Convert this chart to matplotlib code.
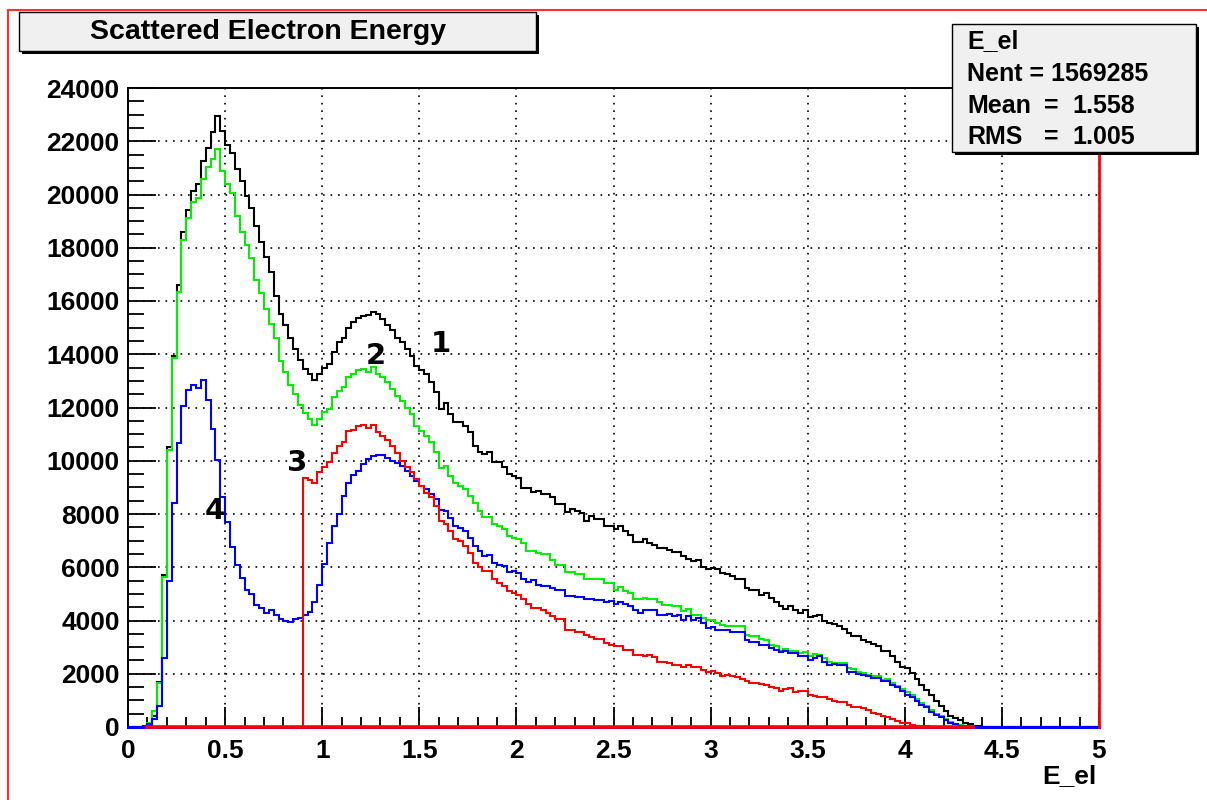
import numpy as np
import matplotlib
matplotlib.use("Agg")
import matplotlib.pyplot as plt
from matplotlib.patches import Rectangle
from matplotlib.lines import Line2D

# histogram: 200 bins of 0.025 over 0..5
n_bins = 200
x_min, x_max = 0.0, 5.0

# series 1 (black), first non-empty bin = 4
black_start = 4
black = [50, 400, 1700, 5700, 10500, 13950, 16600, 18600, 19400, 20150,
         20400, 21250, 21750, 22350, 22950, 22400, 21850, 21550, 20950, 20500,
         19950, 19500, 18800, 18200, 17650, 17100, 16200, 15500, 15100, 14600,
         14200, 13800, 13450, 13250, 13050, 13250, 13500, 13650, 14100, 14450,
         14620, 15000, 15200, 15380, 15420, 15470, 15570, 15500, 15330, 15100,
         14920, 14600, 14460, 14200, 13950, 13550, 13400, 13260, 12950, 12570,
         11940, 12170, 11760, 11470, 11440, 11310, 11070, 10560, 10310, 10250,
         10310, 9960, 9940, 9750, 9500, 9430, 9350, 8990, 8990, 8830,
         8870, 8740, 8740, 8620, 8360, 8360, 8070, 8200, 8110, 8050,
         7740, 7920, 7800, 7800, 7550, 7550, 7420, 7550, 7360, 7230,
         6940, 6940, 7070, 6900, 6830, 6730, 6710, 6630, 6570, 6570,
         6420, 6320, 6230, 6290, 6020, 5940, 5960, 5940, 5790, 5730,
         5660, 5560, 5560, 5230, 5140, 5140, 4970, 5040, 4850, 4680,
         4530, 4430, 4530, 4410, 4280, 4410, 4130, 4160, 4220, 3970,
         3910, 3880, 3780, 3680, 3530, 3430, 3400, 3280, 3180, 3120,
         3030, 2840, 2840, 2650, 2460, 2270, 2200, 2020, 1800, 1580,
         1390, 1210, 990, 770, 610, 410, 330, 260, 160, 110,
         40, 20]

# series 2 (green), first non-empty bin = 3
green_start = 3
green = [30, 150, 600, 1650, 5650, 10400, 13850, 16350, 18300, 19100,
         19700, 19880, 20600, 21050, 21350, 21700, 20900, 20400, 20050, 19200,
         18600, 18100, 17600, 16800, 16300, 15700, 15150, 14600, 13750, 13350,
         12850, 12500, 12100, 11800, 11550, 11350, 11550, 11840, 11940, 12380,
         12630, 12760, 13140, 13260, 13390, 13450, 13350, 13520, 13260, 13140,
         12950, 12700, 12450, 12260, 12000, 11760, 11310, 11130, 10940, 10690,
         10310, 9710, 9810, 9430, 9160, 9050, 8930, 8680, 8400, 8110,
         7900, 7900, 7610, 7540, 7420, 7170, 7110, 7050, 6920, 6600,
         6600, 6540, 6480, 6480, 6290, 6070, 6070, 5810, 5810, 5760,
         5760, 5540, 5540, 5540, 5540, 5390, 5390, 5160, 5260, 5100,
         5040, 4790, 4790, 4850, 4790, 4790, 4680, 4600, 4600, 4530,
         4530, 4340, 4430, 4220, 4220, 4100, 4030, 4030, 3910, 3840,
         3780, 3780, 3780, 3780, 3470, 3400, 3400, 3300, 3280, 3090,
         3030, 2870, 2930, 2840, 2870, 2780, 2800, 2680, 2750, 2710,
         2590, 2460, 2420, 2420, 2400, 2210, 2170, 2080, 2020, 1960,
         1900, 1900, 1770, 1800, 1650, 1550, 1420, 1300, 1200, 1060,
         900, 800, 640, 500, 420, 300, 200, 130, 80, 50,
         30, 10]

# series 3 (red), starts with the jump at E = 0.9
red_start = 36
red = [9340, 9280, 9150, 9570, 9750, 9950, 10300, 10560, 10690, 11100,
       11160, 11310, 11330, 11220, 11330, 11080, 10940, 10770, 10570, 10300,
       10000, 9770, 9590, 9310, 9050, 8800, 8620, 8300, 7740, 7610,
       7360, 7050, 6980, 6790, 6540, 6160, 6020, 5850, 5850, 5560,
       5410, 5290, 5100, 5040, 4950, 4790, 4630, 4470, 4470, 4380,
       4280, 4160, 4060, 4060, 3650, 3650, 3550, 3550, 3470, 3380,
       3300, 3300, 3150, 3090, 3030, 3030, 2900, 2900, 2710, 2710,
       2650, 2710, 2630, 2460, 2460, 2400, 2340, 2340, 2270, 2340,
       2250, 2250, 2150, 2080, 2120, 2020, 1900, 1960, 1920, 1870,
       1800, 1710, 1670, 1670, 1620, 1580, 1520, 1460, 1370, 1420,
       1460, 1330, 1370, 1370, 1210, 1170, 1140, 1120, 1040, 990,
       950, 950, 830, 760, 740, 700, 640, 540, 490, 410,
       390, 290, 240, 160, 140, 80, 50, 30, 20, 10]
# bin range over which the red outline is drawn (it also runs along zero there)
red_lo, red_hi = 4, 174

# series 4 (blue), first non-empty bin = 3
blue_start = 3
blue = [20, 100, 300, 800, 2600, 5500, 8400, 10650, 12050, 12650,
        12850, 12730, 13050, 12300, 11200, 10030, 8620, 7700, 6760, 6080,
        5600, 5140, 5000, 4600, 4460, 4270, 4400, 4220, 4050, 4000,
        3960, 4070, 4110, 4220, 4310, 4690, 5330, 6140, 6920, 7550,
        7990, 8670, 9180, 9480, 9620, 9890, 10060, 10180, 10200, 10200,
        10100, 10000, 9900, 9800, 9620, 9430, 9240, 9050, 8930, 8740,
        8550, 8150, 8110, 7860, 7550, 7490, 7360, 7110, 6790, 6600,
        6410, 6470, 6160, 6100, 6060, 5810, 5850, 5800, 5540, 5440,
        5510, 5350, 5310, 5310, 5220, 5160, 5160, 4910, 4910, 4890,
        4890, 4790, 4790, 4760, 4760, 4680, 4720, 4630, 4680, 4630,
        4530, 4410, 4280, 4410, 4410, 4410, 4220, 4220, 4260, 4160,
        4220, 4030, 4160, 4030, 4100, 3900, 3720, 3760, 3650, 3630,
        3630, 3550, 3550, 3550, 3280, 3180, 3180, 3090, 3090, 2960,
        2900, 2800, 2840, 2780, 2780, 2650, 2650, 2520, 2590, 2650,
        2460, 2340, 2370, 2340, 2340, 2080, 2050, 2000, 1960, 1900,
        1830, 1830, 1710, 1710, 1580, 1520, 1360, 1190, 1120, 990,
        830, 740, 580, 450, 390, 260, 160, 110, 50, 20]

x_ticks = [0, 0.5, 1, 1.5, 2, 2.5, 3, 3.5, 4, 4.5, 5]
x_tick_labels = ["0", "0.5", "1", "1.5", "2", "2.5", "3", "3.5", "4", "4.5", "5"]
y_ticks = list(range(0, 24001, 2000))
y_tick_labels = [str(v) for v in y_ticks]

curve_labels = ["1", "2", "3", "4"]
curve_label_x = [1.61, 1.275, 0.872, 0.445]
curve_label_y = [14390, 13920, 9910, 8100]

stats_name = "E_el"
stats_nent = 1569285
stats_mean = 1.558
stats_rms = 1.005


def full_hist(start, vals):
    h = np.zeros(n_bins)
    h[start:start + len(vals)] = vals
    return h


W, H = 1207, 800
fig = plt.figure(figsize=(W / 100, H / 100), dpi=100)
fig.patch.set_facecolor("white")


def fx(px):
    return px / W


def fy(py):
    return 1 - py / H


ax = fig.add_axes([fx(128), fy(727), fx(1099) - fx(128), fy(88) - fy(727)])
edges = np.linspace(x_min, x_max, n_bins + 1)

ax.stairs(full_hist(black_start, black), edges, color="black", lw=1.5, baseline=0, zorder=3)
ax.stairs(full_hist(green_start, green), edges, color="#00ee00", lw=1.5, baseline=0, zorder=3)
ax.stairs(full_hist(blue_start, blue), edges, color="#0000ff", lw=1.5, baseline=0, zorder=3)
ax.plot([edges[0], edges[-1]], [0, 0], color="#0000ff", lw=2.2, zorder=3, clip_on=False)
red_h = full_hist(red_start, red)
ax.stairs(red_h[red_lo:red_hi], edges[red_lo:red_hi + 1], color="#ff0000", lw=1.5,
          baseline=0, zorder=4)
# ROOT closes the red outline along zero
ax.plot([edges[red_lo], edges[red_hi]], [0, 0], color="#ff0000", lw=2.6, zorder=4, clip_on=False)

ax.set_xlim(x_min, x_max)
ax.set_ylim(0, 24000)

lab_font = dict(family="Liberation Sans", weight="bold", size=19)
ax.set_xticks(x_ticks)
ax.set_xticklabels(x_tick_labels, fontdict=lab_font)
ax.set_yticks(y_ticks)
ax.set_yticklabels(y_tick_labels, fontdict=lab_font)
ax.set_xticks(np.arange(0, 5.001, 0.1), minor=True)
ax.set_yticks(np.arange(0, 24001, 500), minor=True)

ax.tick_params(axis="x", which="major", direction="in", length=14.5, width=1.3, pad=9)
ax.tick_params(axis="x", which="minor", direction="in", length=7, width=1.3)
ax.tick_params(axis="y", which="major", direction="in", length=20, width=1.3, pad=6)
ax.tick_params(axis="y", which="minor", direction="in", length=11.5, width=1.3)

ax.grid(True, which="major", color="black", linestyle=(0, (1, 3.5)), linewidth=1.2)
ax.set_axisbelow(True)

for s in ax.spines.values():
    s.set_linewidth(1.4)
ax.spines["right"].set_color("#ff0000")
ax.spines["right"].set_linewidth(2)
ax.spines["right"].set_zorder(5)

for t, xv, yv in zip(curve_labels, curve_label_x, curve_label_y):
    ax.text(xv, yv, t, ha="center", va="center", family="DejaVu Sans",
            weight="bold", size=21, zorder=6)

fig.text(fx(1097), fy(776), "E_el", ha="right", va="center", **lab_font)

# red canvas border
fig.add_artist(Line2D([fx(8), fx(8)], [fy(10), 0], color="#ff3030", lw=1.5))
fig.add_artist(Line2D([fx(8), 1], [fy(10), fy(10)], color="#ff3030", lw=1.5))


def boxed(x0, y0, x1, y1):
    sh = Rectangle((fx(x0 + 3), fy(y1 + 3)), fx(x1) - fx(x0), fy(y0) - fy(y1),
                   transform=fig.transFigure, facecolor="black", edgecolor="black", lw=0, zorder=7)
    bx = Rectangle((fx(x0), fy(y1)), fx(x1) - fx(x0), fy(y0) - fy(y1),
                   transform=fig.transFigure, facecolor="#f0f0f0", edgecolor="black", lw=1, zorder=8)
    fig.add_artist(sh)
    fig.add_artist(bx)


boxed(19, 12, 536, 51)
fig.text(fx(268), fy(32), "Scattered Electron Energy", ha="center", va="center",
         family="Liberation Sans", weight="bold", size=20.5, zorder=9)

boxed(952, 24, 1196, 152)
st_font = dict(family="Liberation Sans", weight="bold", size=18, zorder=9)
fig.text(fx(967), fy(48), stats_name, ha="left", va="baseline", **st_font)
fig.text(fx(967), fy(81), "Nent = %d" % stats_nent, ha="left", va="baseline", **st_font)
fig.text(fx(967), fy(113), "Mean", ha="left", va="baseline", **st_font)
fig.text(fx(1044), fy(113), "=", ha="left", va="baseline", **st_font)
fig.text(fx(1072), fy(113), "%.3f" % stats_mean, ha="left", va="baseline", **st_font)
fig.text(fx(967), fy(144), "RMS", ha="left", va="baseline", **st_font)
fig.text(fx(1044), fy(144), "=", ha="left", va="baseline", **st_font)
fig.text(fx(1072), fy(144), "%.3f" % stats_rms, ha="left", va="baseline", **st_font)

fig.savefig("out.png", dpi=100)
